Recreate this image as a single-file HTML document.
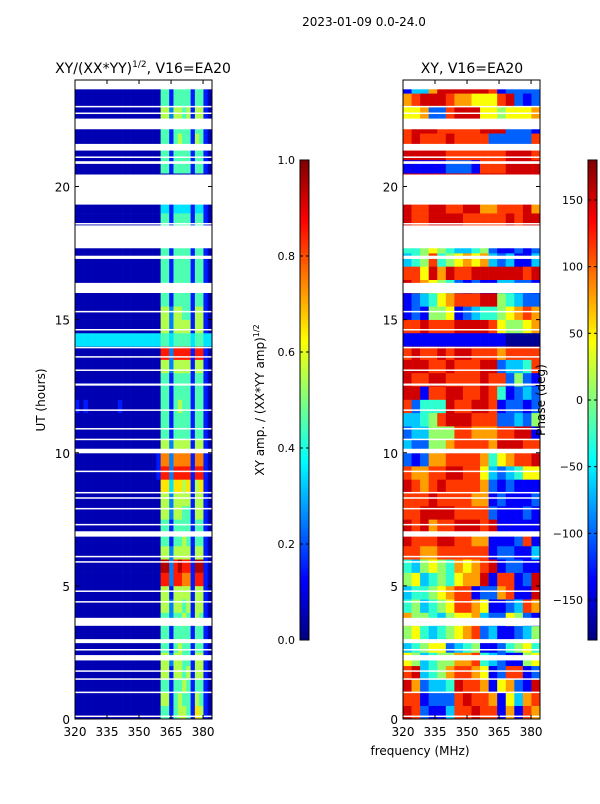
<!DOCTYPE html>
<html><head><meta charset="utf-8"><style>
body{margin:0;background:#fff;width:600px;height:800px;overflow:hidden;font-family:"DejaVu Sans","Liberation Sans",sans-serif}
svg text{font-family:"DejaVu Sans","Liberation Sans",sans-serif;fill:#000}
</style></head><body>
<svg id="fig" width="600" height="800" viewBox="0 0 600 800" xmlns="http://www.w3.org/2000/svg">
<rect width="600" height="800" fill="#fff"/>
<text x="364" y="26" font-size="12" text-anchor="middle">2023-01-09 0.0-24.0</text>
<text x="143" y="73" font-size="14" text-anchor="middle">XY/(XX*YY)<tspan font-size="9" dy="-6">1/2</tspan><tspan dy="6">, V16=EA20</tspan></text>
<text x="472" y="73" font-size="14" text-anchor="middle">XY, V16=EA20</text>
<text transform="translate(45,400) rotate(-90)" font-size="12" text-anchor="middle">UT (hours)</text>
<text transform="translate(264,400) rotate(-90)" font-size="12" text-anchor="middle">XY amp. / (XX*YY amp)<tspan font-size="8" dy="-5">1/2</tspan></text>
<g id="left"></g>
<g id="right"></g>
<g id="cb1"></g>
<g id="cb2"></g>
<text transform="translate(545,400) rotate(-90)" font-size="12" text-anchor="middle">Phase (deg)</text>
<text x="420" y="755" font-size="12" text-anchor="middle">frequency (MHz)</text>
</svg>
<script>
const freqMin = 320, freqMax = 384.2, hourMin = 0, hourMax = 24;
const xTicks = [320, 335, 350, 365, 380];
const yTicks = [0, 5, 10, 15, 20];
const ampTicks = [0.0, 0.2, 0.4, 0.6, 0.8, 1.0];
const phaseTicks = [-150, -100, -50, 0, 50, 100, 150];
const ampRows = [
"00000000000000000000441455416510",
"00000000000000000000551454415410",
"00000000000000000000441445414410",
"00000000000000000000551554515510",
"00000000000000000000552554415510",
"00000000000000000000441454414410",
"00000000000000000000441444414410",
"00000000000000000000442445415410",
"00000000000000000000552554515510",
"00000000000000000000551555515510",
"00000000000000000000882887718810",
"00000000000000000000992898819910",
"00000000000000000000552555515510",
"00000000000000000000441445414410",
"00000000000000000000441444414410",
"00000000000000000000552554415510",
"00000000000000000000552555515510",
"00000000000000000000663665615610",
"00000000000000000001882888818810",
"00000000000000000001772777717710",
"00000000000000000000552555515510",
"00000000000000000000441444414410",
"00000000000000000000441444414410",
"10100000001000000000441454414410",
"00000000000000000000441444414410",
"00000000000000000000441444414410",
"00000000000000000000552555515510",
"00000000000000000000882888818810",
"33333333333333333333443444434433",
"00000000000000000000552555515510",
"00000000000000000000552554415510",
"00000000000000000000441444414410",
"00000000000000000000441444414410",
"00000000000000000000441444414410",
"00000000000000000000441444414410",
"00000000000000000000441444414410",
"00000000000000000000441444414410",
"00000000000000000000441444414410",
"00000000000000000000331333313310",
"00000000000000000000000000000000",
"00000000000000000000000000000000",
"00000000000000000000441444414410",
"00000000000000000000441444414410",
"00000000000000000000441454415410",
"00000000000000000000441444414410",
"00000000000000000000552554515510",
"00000000000000000000441444414410",
"00000000000000000000441444414410"];
const phaseRows = [
"9821138898817187","8812228988716378","9723349887167219","8934578876128812",
"6534557784321156","3456623451124564","5643456782311235","7554356673226521",
"4534568876112387","3445678812278119","5634546779188129","4356547678912211",
"8877888888122113","9888998877111281","9897889998911111","8899998888211121",
"8889888877121112","9878988887212111","8778899886323466","2127788887467889",
"3225578888799988","2335558877788991","3345899988822325","8244498899812212",
"9918899889841232","9889988889882521","9998898889923348","8988989988878888",
"1111111111110000","8898889999865567","1215561234456787","1234678889954322",
"9876542121133221","8869798899999989","3458456767323113","4456543345211212",
"8878878889888889","9889999888889899","9889988997788897","9999999999999999",
"9999999999999999","1111122218889999","9999988888889998","8988898888222228",
"8999888889992221","6672289996656667","7899987766689212","1337999999812222"];
const blankStart = [23.65, 22.15, 21.35, 20.85, 19.32, 17.68, 17.28, 16.0, 12.52, 9.98, 6.85, 3.5, 2.85, 2.2];
const blankEnd   = [24.0, 22.55, 21.6, 20.95, 20.45, 18.54, 17.4, 16.38, 12.6, 10.15, 7.05, 3.8, 3.0, 2.4];
const thinLines = [23.0, 22.75, 21.1, 18.6, 15.3, 14.62, 13.95, 13.6, 13.1, 11.6, 10.9, 10.5, 9.3, 8.5, 8.3, 7.9, 7.3, 6.1, 5.9, 4.8, 4.4, 2.6, 1.8, 1.5, 1.0, 0.1];

const NS = "http://www.w3.org/2000/svg";
function jet(v){v=Math.max(0,Math.min(1,v));
 const f=t=>Math.round(255*Math.max(0,Math.min(1,1.5-Math.abs(4*v-t))));
 return `rgb(${f(3)},${f(2)},${f(1)})`;}
function mk(tag, attrs, parent){const e=document.createElementNS(NS,tag);for(const k in attrs)e.setAttribute(k,attrs[k]);parent.appendChild(e);return e;}
function panel(gid, x0, rows, ncol, valFn){
 const g=document.getElementById(gid);
 const W=137, y0=80, y1=719;
 const xs=f=>x0+(f-freqMin)/(freqMax-freqMin)*W;
 const ys=h=>y1-(h-hourMin)/(hourMax-hourMin)*(y1-y0);
 const df=(freqMax-freqMin)/ncol;
 rows.forEach((row,r)=>{
  for(let c=0;c<ncol;c++){
   const d=+row[c];
   const x=xs(freqMin+c*df), xe=xs(freqMin+(c+1)*df);
   const rc=mk('rect',{x:x.toFixed(2),y:ys((r+1)*0.5).toFixed(2),width:(xe-x+0.3).toFixed(2),height:(ys(r*0.5)-ys((r+1)*0.5)+0.3).toFixed(2),fill:jet(valFn(d))},g);
   
   
  }
 });
 blankStart.forEach((s,i)=>{
  const b=mk('rect',{x:x0,y:ys(blankEnd[i]),width:W,height:ys(s)-ys(blankEnd[i]),fill:'#fff'},g);
  
  
 });
 thinLines.forEach(h=>{
  const l=mk('rect',{x:x0,y:ys(h)-0.75,width:W,height:1.5,fill:'#fff'},g);
  
  
 });
 const fr=mk('rect',{x:x0,y:y0,width:W,height:y1-y0,fill:'none',stroke:'#000','stroke-width':1},g);
 
 
 xTicks.forEach(t=>{
  const x=xs(t);
  mk('line',{x1:x,x2:x,y1:y1,y2:y1-4,stroke:'#000'},g);
  mk('line',{x1:x,x2:x,y1:y0,y2:y0+4,stroke:'#000'},g);
  const tx=mk('text',{x:x,y:y1+17,'font-size':12,'text-anchor':'middle'},g);
  tx.textContent=t;
  
  
 });
 yTicks.forEach(t=>{
  const y=ys(t);
  mk('line',{x1:x0,x2:x0+4,y1:y,y2:y,stroke:'#000'},g);
  mk('line',{x1:x0+W,x2:x0+W-4,y1:y,y2:y,stroke:'#000'},g);
  const tx=mk('text',{x:x0-5,y:y+5,'font-size':12,'text-anchor':'end'},g);
  tx.textContent=t;
  
  
 });
}
panel('left',75,ampRows,32,d=>d/10+0.05);
panel('right',403,phaseRows,16,d=>(d+0.2)/10);

function colorbar(gid,x,ticks,tmin,tmax,fmt){
 const g=document.getElementById(gid);
 const y0=160,y1=640,w=9,n=120;
 for(let i=0;i<n;i++){
  mk('rect',{x:x,y:y1-(i+1)*(y1-y0)/n,width:w,height:(y1-y0)/n+0.5,fill:jet((i+0.5)/n)},g);
 }
 mk('rect',{x:x,y:y0,width:w,height:y1-y0,fill:'none',stroke:'#000'},g);
 ticks.forEach(t=>{
  const y=y1-(t-tmin)/(tmax-tmin)*(y1-y0);
  mk('line',{x1:x,x2:x+3,y1:y,y2:y,stroke:'#000'},g);
  mk('line',{x1:x+w,x2:x+w-3,y1:y,y2:y,stroke:'#000'},g);
  const tx=mk('text',{x:x-5,y:y+4,'font-size':11,'text-anchor':'end'},g);
  tx.textContent=fmt(t);
  
  
 });
}
colorbar('cb1',300,ampTicks,0,1,t=>t.toFixed(1));
colorbar('cb2',588,phaseTicks,-180,180,t=>t<0?'\u2212'+(-t):String(t));
</script>
</body></html>
